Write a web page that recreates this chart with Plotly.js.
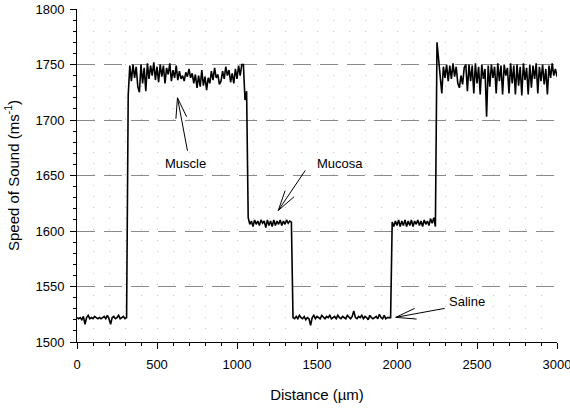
<!DOCTYPE html>
<html>
<head>
<meta charset="utf-8">
<script src="https://cdn.plot.ly/plotly-3.0.1.min.js"></script>
<style>html,body{margin:0;padding:0;background:#fff;}#chart{width:570px;height:408px;}</style>
</head>
<body>
<div id="chart"></div>
<script>
// Distance (µm), sampled every 10 µm
const distance = [
  0,10,20,30,40,50,60,70,80,90,
  100,110,120,130,140,150,160,170,180,190,
  200,210,220,230,240,250,260,270,280,290,
  300,310,320,330,340,350,360,370,380,390,
  400,410,420,430,440,450,460,470,480,490,
  500,510,520,530,540,550,560,570,580,590,
  600,610,620,630,640,650,660,670,680,690,
  700,710,720,730,740,750,760,770,780,790,
  800,810,820,830,840,850,860,870,880,890,
  900,910,920,930,940,950,960,970,980,990,
  1000,1010,1020,1030,1040,1050,1060,1070,1080,1090,
  1100,1110,1120,1130,1140,1150,1160,1170,1180,1190,
  1200,1210,1220,1230,1240,1250,1260,1270,1280,1290,
  1300,1310,1320,1330,1340,1350,1360,1370,1380,1390,
  1400,1410,1420,1430,1440,1450,1460,1470,1480,1490,
  1500,1510,1520,1530,1540,1550,1560,1570,1580,1590,
  1600,1610,1620,1630,1640,1650,1660,1670,1680,1690,
  1700,1710,1720,1730,1740,1750,1760,1770,1780,1790,
  1800,1810,1820,1830,1840,1850,1860,1870,1880,1890,
  1900,1910,1920,1930,1940,1950,1960,1970,1980,1990,
  2000,2010,2020,2030,2040,2050,2060,2070,2080,2090,
  2100,2110,2120,2130,2140,2150,2160,2170,2180,2190,
  2200,2210,2220,2230,2240,2250,2260,2270,2280,2290,
  2300,2310,2320,2330,2340,2350,2360,2370,2380,2390,
  2400,2410,2420,2430,2440,2450,2460,2470,2480,2490,
  2500,2510,2520,2530,2540,2550,2560,2570,2580,2590,
  2600,2610,2620,2630,2640,2650,2660,2670,2680,2690,
  2700,2710,2720,2730,2740,2750,2760,2770,2780,2790,
  2800,2810,2820,2830,2840,2850,2860,2870,2880,2890,
  2900,2910,2920,2930,2940,2950,2960,2970,2980,2990,
  3000
];

// Speed of sound (m/s)
const speed = [
  1522,1521,1522,1520,1523,1516,1522,1524,1521,1522,
  1521,1523,1522,1521,1522,1521,1522,1523,1521,1524,
  1521,1516,1522,1523,1521,1522,1524,1521,1522,1523,
  1521,1522,1722,1749,1735,1750,1738,1748,1730,1725,
  1750,1733,1747,1726,1751,1737,1749,1740,1752,1736,
  1748,1734,1750,1739,1749,1733,1747,1741,1751,1735,
  1745,1738,1749,1736,1744,1737,1740,1735,1743,1739,
  1746,1738,1742,1733,1741,1729,1740,1730,1745,1731,
  1739,1727,1738,1733,1744,1736,1747,1738,1741,1732,
  1735,1744,1737,1748,1740,1745,1734,1742,1733,1746,
  1737,1749,1740,1750,1750,1718,1726,1612,1606,1609,
  1604,1610,1606,1609,1605,1610,1607,1609,1603,1610,
  1605,1609,1604,1610,1605,1609,1606,1610,1605,1609,
  1606,1610,1607,1609,1608,1522,1521,1523,1521,1524,
  1522,1521,1523,1520,1522,1521,1515,1522,1524,1521,
  1523,1522,1521,1524,1522,1521,1523,1522,1524,1521,
  1522,1523,1521,1524,1522,1521,1523,1522,1521,1524,
  1522,1521,1523,1528,1522,1521,1523,1522,1524,1521,
  1523,1522,1520,1524,1522,1521,1522,1523,1521,1525,
  1522,1521,1524,1521,1522,1522,1522,1608,1604,1609,
  1605,1610,1604,1609,1605,1610,1604,1609,1605,1610,
  1604,1609,1606,1610,1605,1609,1604,1610,1606,1609,
  1605,1611,1607,1612,1604,1770,1752,1740,1724,1748,
  1738,1750,1735,1749,1737,1751,1739,1748,1733,1729,
  1740,1732,1747,1750,1726,1750,1735,1749,1724,1751,
  1733,1748,1723,1750,1737,1746,1703,1749,1730,1750,
  1738,1748,1724,1751,1735,1749,1723,1750,1740,1747,
  1724,1751,1733,1749,1723,1750,1731,1748,1722,1751,
  1736,1747,1723,1750,1729,1749,1737,1751,1724,1748,
  1735,1750,1732,1746,1723,1749,1738,1751,1740,1746,
  1739
];

const xTickVals = [0, 500, 1000, 1500, 2000, 2500, 3000];
const yTickVals = [1500, 1550, 1600, 1650, 1700, 1750, 1800];

// Labels with their arrow tips (data coords) and arrow tail offsets (pixels, screen: right/down)
const labelText = ['Muscle', 'Mucosa', 'Saline'];
const labelPos = [[678, 1660.5], [1641, 1660.5], [2437, 1536.5]];
const arrowTip = [[628, 1720], [1258, 1618.5], [1992, 1522.2]];
const arrowTail = [[10, 53], [27, -40], [49, -9]];

const FONT = 'Arial, "Liberation Sans", sans-serif';

function arrowPath(tail) {
  // path relative to tip in pixels, y positive upward
  const tx = tail[0], ty = -tail[1];
  const len = Math.hypot(tx, ty);
  const ux = tx / len, uy = ty / len;
  const L = 21, a = 15 * Math.PI / 180;
  const rot = (ang) => [ (ux * Math.cos(ang) - uy * Math.sin(ang)) * L, (ux * Math.sin(ang) + uy * Math.cos(ang)) * L ];
  const b1 = rot(a), b2 = rot(-a);
  const f = (v) => v.toFixed(2);
  return `M${f(tx)},${f(ty)} L0,0 M${f(b1[0])},${f(b1[1])} L0,0 L${f(b2[0])},${f(b2[1])}`;
}

const shapes = arrowTip.map((tip, i) => ({
  type: 'path',
  xref: 'x', yref: 'y',
  xsizemode: 'pixel', ysizemode: 'pixel',
  xanchor: tip[0], yanchor: tip[1],
  path: arrowPath(arrowTail[i]),
  line: {color: '#000', width: 1}
}));

const annotations = labelText.map((t, i) => ({
  x: labelPos[i][0], y: labelPos[i][1], xref: 'x', yref: 'y',
  text: t, showarrow: false,
  font: {family: FONT, size: 13, color: '#000'}
}));

const trace = {
  x: distance,
  y: speed,
  type: 'scatter',
  mode: 'lines',
  line: {color: '#000', width: 1.6},
  hoverinfo: 'skip'
};

const layout = {
  width: 570,
  height: 408,
  margin: {l: 77, r: 13, t: 9, b: 66},
  paper_bgcolor: '#fff',
  plot_bgcolor: '#fff',
  showlegend: false,
  font: {family: FONT, size: 13, color: '#000'},
  xaxis: {
    range: [0, 3000],
    tickvals: xTickVals,
    ticktext: xTickVals.map(String),
    ticks: 'outside',
    ticklen: 6,
    tickwidth: 1,
    tickcolor: '#000',
    ticklabelstandoff: 4,
    ticklabeloverflow: 'allow',
    showline: true,
    linecolor: '#000',
    linewidth: 1,
    zeroline: false,
    showgrid: true,
    gridcolor: '#c4c4c4',
    griddash: '1px,10px',
    gridwidth: 1,
    minor: {dtick: 100, ticks: 'outside', ticklen: 3, tickcolor: '#000', showgrid: true, gridcolor: '#c4c4c4', griddash: '1px,10px', gridwidth: 1},
    tickfont: {family: FONT, size: 13, color: '#000'},
    title: {text: 'Distance (µm)', font: {family: FONT, size: 15, color: '#000'}, standoff: 18},
    automargin: false
  },
  yaxis: {
    range: [1500, 1800],
    tickvals: yTickVals,
    ticktext: yTickVals.map(String),
    ticks: 'outside',
    ticklen: 6,
    tickwidth: 1,
    tickcolor: '#000',
    ticklabelstandoff: 3,
    ticklabeloverflow: 'allow',
    showline: true,
    linecolor: '#000',
    linewidth: 1,
    zeroline: false,
    showgrid: true,
    gridcolor: '#8a8a8a',
    griddash: '18px,9px',
    gridwidth: 1,
    minor: {dtick: 10, ticks: 'outside', ticklen: 3, tickcolor: '#000', showgrid: false},
    tickfont: {family: FONT, size: 13, color: '#000'},
    title: {text: 'Speed of Sound (ms<sup>-1</sup>)', font: {family: FONT, size: 15, color: '#000'}, standoff: 12},
    automargin: false
  },
  shapes: shapes,
  annotations: annotations
};

Plotly.newPlot('chart', [trace], layout, {staticPlot: true, displayModeBar: false});
</script>
</body>
</html>
